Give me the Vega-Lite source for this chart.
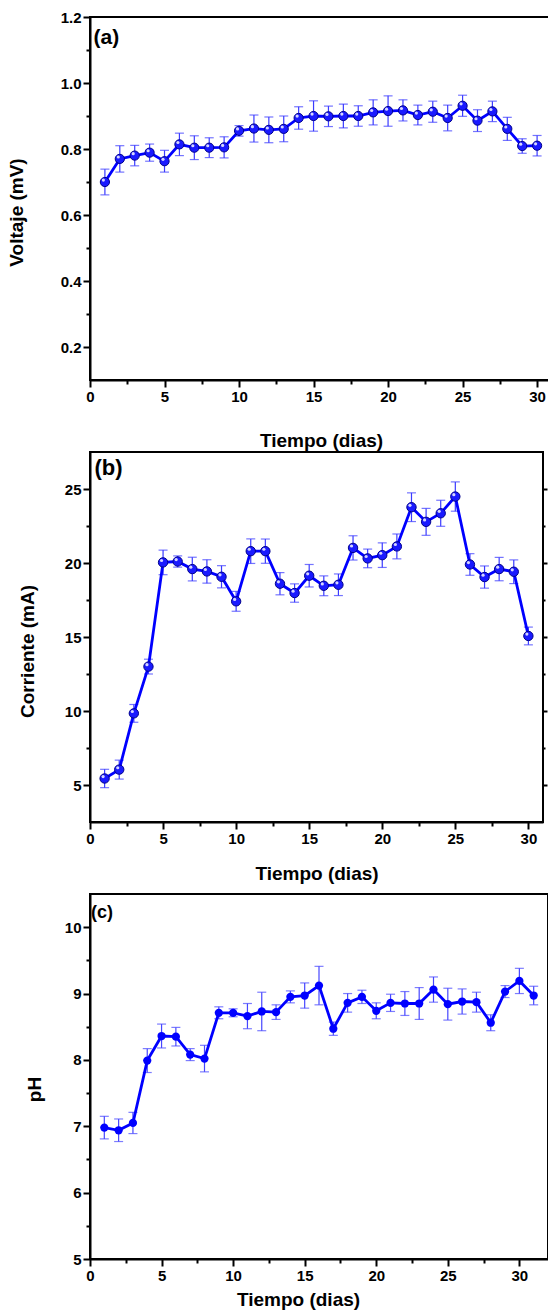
{
  "$schema": "https://vega.github.io/schema/vega-lite/v6.json",
  "autosize": {"type": "pad"},
  "padding": {"left": 6, "top": 9, "right": 0, "bottom": 0},
  "bounds": "flush",
  "spacing": 72,
  "config": {
    "view": {"stroke": "black", "strokeWidth": 2},
    "axis": {
      "domainColor": "black", "domainWidth": 2, "tickColor": "black", "tickWidth": 2,
      "labelFont": "Liberation Sans", "labelFontWeight": "bold", "labelFontSize": 15, "labelColor": "black",
      "titleFont": "Liberation Sans", "titleFontWeight": "bold", "titleFontSize": 19, "titleColor": "black",
      "grid": false, "labelFlush": false, "labelOverlap": false, "labelPadding": 2
    },
    "text": {"font": "Liberation Sans", "fontWeight": "bold", "color": "black"}
  },
  "datasets": {
    "volt": [
      {"d": 1, "v": 0.700, "e": 0.039}, {"d": 2, "v": 0.770, "e": 0.040}, {"d": 3, "v": 0.780, "e": 0.031},
      {"d": 4, "v": 0.789, "e": 0.026}, {"d": 5, "v": 0.763, "e": 0.033}, {"d": 6, "v": 0.814, "e": 0.034},
      {"d": 7, "v": 0.804, "e": 0.036}, {"d": 8, "v": 0.804, "e": 0.030}, {"d": 9, "v": 0.805, "e": 0.032},
      {"d": 10, "v": 0.855, "e": 0.016}, {"d": 11, "v": 0.862, "e": 0.041}, {"d": 12, "v": 0.858, "e": 0.039},
      {"d": 13, "v": 0.861, "e": 0.039}, {"d": 14, "v": 0.894, "e": 0.034}, {"d": 15, "v": 0.900, "e": 0.046},
      {"d": 16, "v": 0.899, "e": 0.031}, {"d": 17, "v": 0.900, "e": 0.036}, {"d": 18, "v": 0.900, "e": 0.031},
      {"d": 19, "v": 0.911, "e": 0.038}, {"d": 20, "v": 0.915, "e": 0.046}, {"d": 21, "v": 0.917, "e": 0.032},
      {"d": 22, "v": 0.903, "e": 0.030}, {"d": 23, "v": 0.913, "e": 0.032}, {"d": 24, "v": 0.894, "e": 0.039},
      {"d": 25, "v": 0.931, "e": 0.032}, {"d": 26, "v": 0.886, "e": 0.033}, {"d": 27, "v": 0.914, "e": 0.031},
      {"d": 28, "v": 0.861, "e": 0.035}, {"d": 29, "v": 0.809, "e": 0.022}, {"d": 30, "v": 0.810, "e": 0.031}
    ],
    "corr": [
      {"d": 1, "v": 5.44, "e": 0.62}, {"d": 2, "v": 6.04, "e": 0.64}, {"d": 3, "v": 9.84, "e": 0.60},
      {"d": 4, "v": 13.0, "e": 0.50}, {"d": 5, "v": 20.04, "e": 0.83}, {"d": 6, "v": 20.1, "e": 0.38},
      {"d": 7, "v": 19.59, "e": 0.80}, {"d": 8, "v": 19.43, "e": 0.79}, {"d": 9, "v": 19.07, "e": 0.75},
      {"d": 10, "v": 17.41, "e": 0.67}, {"d": 11, "v": 20.8, "e": 0.83}, {"d": 12, "v": 20.8, "e": 0.82},
      {"d": 13, "v": 18.6, "e": 0.75}, {"d": 14, "v": 17.97, "e": 0.62}, {"d": 15, "v": 19.14, "e": 0.76},
      {"d": 16, "v": 18.46, "e": 0.67}, {"d": 17, "v": 18.53, "e": 0.73}, {"d": 18, "v": 21.02, "e": 0.82},
      {"d": 19, "v": 20.31, "e": 0.63}, {"d": 20, "v": 20.53, "e": 0.83}, {"d": 21, "v": 21.12, "e": 0.84},
      {"d": 22, "v": 23.77, "e": 0.97}, {"d": 23, "v": 22.78, "e": 0.91}, {"d": 24, "v": 23.36, "e": 0.88},
      {"d": 25, "v": 24.49, "e": 0.99}, {"d": 26, "v": 19.9, "e": 0.73}, {"d": 27, "v": 19.05, "e": 0.75},
      {"d": 28, "v": 19.59, "e": 0.79}, {"d": 29, "v": 19.41, "e": 0.80}, {"d": 30, "v": 15.07, "e": 0.60}
    ],
    "ph": [
      {"d": 1, "v": 6.98, "e": 0.17}, {"d": 2, "v": 6.94, "e": 0.17}, {"d": 3, "v": 7.05, "e": 0.16},
      {"d": 4, "v": 7.99, "e": 0.18}, {"d": 5, "v": 8.36, "e": 0.18}, {"d": 6, "v": 8.35, "e": 0.14},
      {"d": 7, "v": 8.08, "e": 0.09}, {"d": 8, "v": 8.02, "e": 0.20}, {"d": 9, "v": 8.71, "e": 0.09},
      {"d": 10, "v": 8.71, "e": 0.06}, {"d": 11, "v": 8.66, "e": 0.19}, {"d": 12, "v": 8.73, "e": 0.29},
      {"d": 13, "v": 8.72, "e": 0.11}, {"d": 14, "v": 8.95, "e": 0.09}, {"d": 15, "v": 8.97, "e": 0.19},
      {"d": 16, "v": 9.12, "e": 0.29}, {"d": 17, "v": 8.47, "e": 0.10}, {"d": 18, "v": 8.86, "e": 0.14},
      {"d": 19, "v": 8.95, "e": 0.10}, {"d": 20, "v": 8.74, "e": 0.12}, {"d": 21, "v": 8.86, "e": 0.13},
      {"d": 22, "v": 8.85, "e": 0.18}, {"d": 23, "v": 8.85, "e": 0.24}, {"d": 24, "v": 9.06, "e": 0.19},
      {"d": 25, "v": 8.84, "e": 0.24}, {"d": 26, "v": 8.88, "e": 0.19}, {"d": 27, "v": 8.87, "e": 0.15},
      {"d": 28, "v": 8.56, "e": 0.12}, {"d": 29, "v": 9.03, "e": 0.09}, {"d": 30, "v": 9.19, "e": 0.19},
      {"d": 31, "v": 8.97, "e": 0.14}
    ]
  },
  "vconcat": [
    {
      "width": 462, "height": 363,
      "resolve": {"axis": {"x": "independent", "y": "independent"}},
      "layer": [
        {
          "data": {"name": "volt"},
          "mark": {"type": "errorbar", "color": "#3a3aff", "thickness": 1.2, "ticks": {"size": 9, "thickness": 1.2}},
          "encoding": {
            "x": {"field": "d", "type": "quantitative", "scale": {"domain": [0, 31], "nice": false, "zero": false}, "axis": null},
            "y": {"field": "v", "type": "quantitative", "scale": {"domain": [0.1, 1.2], "nice": false, "zero": false}, "axis": null},
            "yError": {"field": "e"}
          }
        },
        {
          "data": {"name": "volt"},
          "mark": {"type": "line", "color": "#0000ff", "strokeWidth": 2.8},
          "encoding": {
            "x": {"field": "d", "type": "quantitative", "scale": {"domain": [0, 31], "nice": false, "zero": false},
              "axis": {"title": "Tiempo (dias)", "values": [0, 2.5, 5, 7.5, 10, 12.5, 15, 17.5, 20, 22.5, 25, 27.5, 30],
                "labelExpr": "datum.value % 5 == 0 ? format(datum.value, 'd') : ''",
                "tickSize": {"condition": {"test": "datum.value % 5 == 0", "value": 7}, "value": 4},
                "titleY": 51}},
            "y": {"field": "v", "type": "quantitative", "scale": {"domain": [0.1, 1.2], "nice": false, "zero": false},
              "axis": {"title": "Voltaje (mV)", "values": [0.2, 0.3, 0.4, 0.5, 0.6, 0.7, 0.8, 0.9, 1.0, 1.1, 1.2],
                "labelExpr": "round(datum.value*10) % 2 == 0 ? format(datum.value, '.1f') : ''",
                "tickSize": {"condition": {"test": "round(datum.value*10) % 2 == 0", "value": 7}, "value": 4},
                "titleX": -64, "titleY": 195}}
          }
        },
        {
          "data": {"name": "volt"},
          "mark": {"type": "point", "filled": true, "size": 85, "fill": "#1a1aff", "stroke": "#00008c", "strokeWidth": 1, "opacity": 1},
          "encoding": {
            "x": {"field": "d", "type": "quantitative", "scale": {"domain": [0, 31], "nice": false, "zero": false}, "axis": null},
            "y": {"field": "v", "type": "quantitative", "scale": {"domain": [0.1, 1.2], "nice": false, "zero": false}, "axis": null}
          }
        },
        {
          "data": {"name": "volt"},
          "mark": {"type": "point", "filled": true, "size": 10, "color": "#d6d6ff", "opacity": 1, "xOffset": -1.5, "yOffset": -1.9},
          "encoding": {
            "x": {"field": "d", "type": "quantitative", "scale": {"domain": [0, 31], "nice": false, "zero": false}, "axis": null},
            "y": {"field": "v", "type": "quantitative", "scale": {"domain": [0.1, 1.2], "nice": false, "zero": false}, "axis": null}
          }
        },
        {
          "data": {"values": [{}]},
          "mark": {"type": "text", "text": "(a)", "fontSize": 21, "align": "left", "baseline": "top"},
          "encoding": {
            "x": {"datum": 0.24, "type": "quantitative", "scale": {"domain": [0, 31], "nice": false, "zero": false}, "axis": null},
            "y": {"datum": 1.17, "type": "quantitative", "scale": {"domain": [0.1, 1.2], "nice": false, "zero": false}, "axis": null}
          }
        }
      ]
    },
    {
      "width": 453, "height": 370,
      "resolve": {"axis": {"x": "independent", "y": "independent"}},
      "layer": [
        {
          "data": {"name": "corr"},
          "mark": {"type": "errorbar", "color": "#3a3aff", "thickness": 1.2, "ticks": {"size": 9, "thickness": 1.2}},
          "encoding": {
            "x": {"field": "d", "type": "quantitative", "scale": {"domain": [0, 31], "nice": false, "zero": false}, "axis": null},
            "y": {"field": "v", "type": "quantitative", "scale": {"domain": [2.5, 27.5], "nice": false, "zero": false}, "axis": null},
            "yError": {"field": "e"}
          }
        },
        {
          "data": {"name": "corr"},
          "mark": {"type": "line", "color": "#0000ff", "strokeWidth": 2.8},
          "encoding": {
            "x": {"field": "d", "type": "quantitative", "scale": {"domain": [0, 31], "nice": false, "zero": false},
              "axis": {"title": "Tiempo (dias)", "values": [0, 2.5, 5, 7.5, 10, 12.5, 15, 17.5, 20, 22.5, 25, 27.5, 30],
                "labelExpr": "datum.value % 5 == 0 ? format(datum.value, 'd') : ''",
                "tickSize": {"condition": {"test": "datum.value % 5 == 0", "value": 7}, "value": 4},
                "titleY": 42}},
            "y": {"field": "v", "type": "quantitative", "scale": {"domain": [2.5, 27.5], "nice": false, "zero": false},
              "axis": {"title": "Corriente (mA)", "values": [5, 7.5, 10, 12.5, 15, 17.5, 20, 22.5, 25],
                "labelExpr": "datum.value % 5 == 0 ? format(datum.value, 'd') : ''",
                "tickSize": {"condition": {"test": "datum.value % 5 == 0", "value": 7}, "value": 4},
                "titleX": -53, "titleY": 199}}
          }
        },
        {
          "data": {"name": "corr"},
          "mark": {"type": "point", "filled": true, "size": 88, "fill": "#1a1aff", "stroke": "#00008c", "strokeWidth": 1, "opacity": 1},
          "encoding": {
            "x": {"field": "d", "type": "quantitative", "scale": {"domain": [0, 31], "nice": false, "zero": false}, "axis": null},
            "y": {"field": "v", "type": "quantitative", "scale": {"domain": [2.5, 27.5], "nice": false, "zero": false},
              "axis": {"orient": "right", "labels": false, "title": null, "domain": false, "values": [5, 7.5, 10, 12.5, 15, 17.5, 20, 22.5, 25],
                "tickSize": {"condition": {"test": "datum.value % 5 == 0", "value": 4}, "value": 2}}}
          }
        },
        {
          "data": {"name": "corr"},
          "mark": {"type": "point", "filled": true, "size": 10, "color": "#d6d6ff", "opacity": 1, "xOffset": -1.5, "yOffset": -1.9},
          "encoding": {
            "x": {"field": "d", "type": "quantitative", "scale": {"domain": [0, 31], "nice": false, "zero": false}, "axis": null},
            "y": {"field": "v", "type": "quantitative", "scale": {"domain": [2.5, 27.5], "nice": false, "zero": false}, "axis": null}
          }
        },
        {
          "data": {"values": [{}]},
          "mark": {"type": "text", "text": "(b)", "fontSize": 22, "align": "left", "baseline": "top"},
          "encoding": {
            "x": {"datum": 0.3, "type": "quantitative", "scale": {"domain": [0, 31], "nice": false, "zero": false}, "axis": null},
            "y": {"datum": 27.1, "type": "quantitative", "scale": {"domain": [2.5, 27.5], "nice": false, "zero": false}, "axis": null}
          }
        }
      ]
    },
    {
      "width": 458, "height": 365,
      "resolve": {"axis": {"x": "independent", "y": "independent"}},
      "layer": [
        {
          "data": {"name": "ph"},
          "mark": {"type": "errorbar", "color": "#4646ff", "thickness": 1.2, "ticks": {"size": 9, "thickness": 1.2}},
          "encoding": {
            "x": {"field": "d", "type": "quantitative", "scale": {"domain": [0, 32], "nice": false, "zero": false}, "axis": null},
            "y": {"field": "v", "type": "quantitative", "scale": {"domain": [5, 10.5], "nice": false, "zero": false}, "axis": null},
            "yError": {"field": "e"}
          }
        },
        {
          "data": {"name": "ph"},
          "mark": {"type": "line", "color": "#0000ff", "strokeWidth": 2.8},
          "encoding": {
            "x": {"field": "d", "type": "quantitative", "scale": {"domain": [0, 32], "nice": false, "zero": false},
              "axis": {"title": "Tiempo (dias)", "values": [0, 2.5, 5, 7.5, 10, 12.5, 15, 17.5, 20, 22.5, 25, 27.5, 30],
                "labelExpr": "datum.value % 5 == 0 ? format(datum.value, 'd') : ''",
                "tickSize": {"condition": {"test": "datum.value % 5 == 0", "value": 7}, "value": 4},
                "titleY": 31, "titleX": 208}},
            "y": {"field": "v", "type": "quantitative", "scale": {"domain": [5, 10.5], "nice": false, "zero": false},
              "axis": {"title": "pH", "values": [5, 5.5, 6, 6.5, 7, 7.5, 8, 8.5, 9, 9.5, 10],
                "labelExpr": "datum.value % 1 == 0 ? format(datum.value, 'd') : ''",
                "tickSize": {"condition": {"test": "datum.value % 1 == 0", "value": 7}, "value": 4},
                "titleX": -46, "titleY": 195}}
          }
        },
        {
          "data": {"name": "ph"},
          "mark": {"type": "point", "filled": true, "size": 68, "color": "#0000ff", "opacity": 1},
          "encoding": {
            "x": {"field": "d", "type": "quantitative", "scale": {"domain": [0, 32], "nice": false, "zero": false}, "axis": null},
            "y": {"field": "v", "type": "quantitative", "scale": {"domain": [5, 10.5], "nice": false, "zero": false},
              "axis": {"orient": "right", "labels": false, "title": null, "domain": false, "values": [5, 5.5, 6, 6.5, 7, 7.5, 8, 8.5, 9, 9.5, 10],
                "tickSize": {"condition": {"test": "datum.value % 1 == 0", "value": 4}, "value": 2}}}
          }
        },
        {
          "data": {"values": [{}]},
          "mark": {"type": "text", "text": "(c)", "fontSize": 18, "align": "left", "baseline": "top"},
          "encoding": {
            "x": {"datum": 0.07, "type": "quantitative", "scale": {"domain": [0, 32], "nice": false, "zero": false}, "axis": null},
            "y": {"datum": 10.35, "type": "quantitative", "scale": {"domain": [5, 10.5], "nice": false, "zero": false}, "axis": null}
          }
        }
      ]
    }
  ]
}
